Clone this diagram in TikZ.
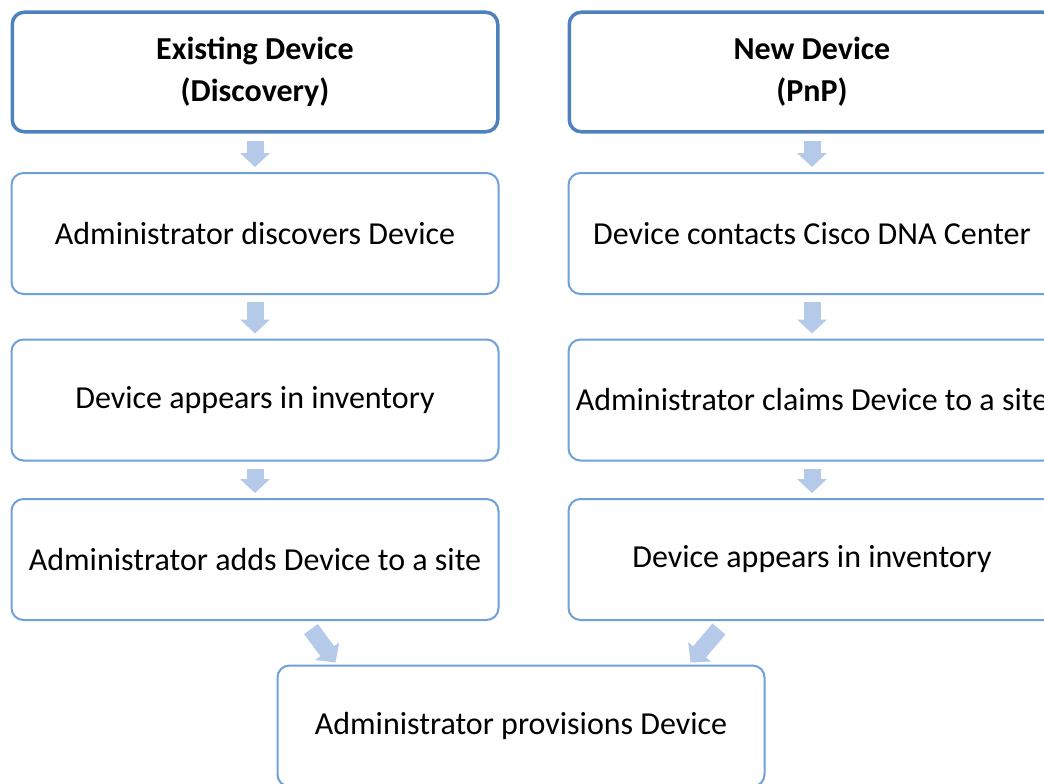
\documentclass[tikz,border=0pt]{standalone}
\usepackage{fontspec}
\setmainfont{Carlito}
\usetikzlibrary{positioning,arrows.meta}

\definecolor{headblue}{HTML}{4F81BD}
\definecolor{boxblue}{HTML}{6FA0DA}
\definecolor{arrowblue}{HTML}{B4CAE8}

\tikzset{
  box/.style={draw=boxblue,line width=2pt,rounded corners=12pt,
    minimum width=487pt,minimum height=121pt,inner sep=0pt,
    align=center,font=\fontsize{32}{42}\selectfont},
  headbox/.style={box,draw=headblue,line width=3.5pt,
    minimum width=485.5pt,minimum height=119.5pt,
    font=\bfseries\fontsize{32}{42}\selectfont},
  flow/.style={draw=arrowblue,line width=17pt,
    -{Triangle[length=14pt,width=29pt]}}
}

\begin{document}
\begin{tikzpicture}[x=1pt,y=-1pt]
  \useasboundingbox (0,0) rectangle (1044,784);
  % two starting points
  \node[headbox] (h1) at (255,72) {Existing Device\\(Discovery)};
  \node[headbox,right=68pt of h1] (h2) {New Device\\(PnP)};
  % discovery path
  \node[box,below=38.5pt of h1] (a1) {Administrator discovers Device};
  \node[box,below=43.5pt of a1] (a2) {Device appears in inventory};
  \node[box,below=36.5pt of a2] (a3) {Administrator adds Device to a site};
  % pnp path
  \node[box,below=38.5pt of h2] (b1) {Device contacts Cisco DNA Center};
  \node[box,below=43.5pt of b1] (b2) {Administrator claims Device to a site};
  \node[box,below=36.5pt of b2] (b3) {Device appears in inventory};
  % common end
  \node[box,below=43.5pt of a3,xshift=266pt] (p) {Administrator provisions Device};

  \foreach \u/\v in {h1/a1,a1/a2,a2/a3,h2/b1,b1/b2,b2/b3}
    \draw[flow] ([yshift=-7pt]\u.south) -- ([yshift=5pt]\v.north);
  \draw[flow] ([xshift=56pt,yshift=-8pt]a3.south) -- ([xshift=59pt,yshift=2pt]p.north west);
  \draw[flow] ([xshift=-93pt,yshift=-8pt]b3.south) -- ([xshift=-75pt,yshift=2pt]p.north east);
\end{tikzpicture}
\end{document}
